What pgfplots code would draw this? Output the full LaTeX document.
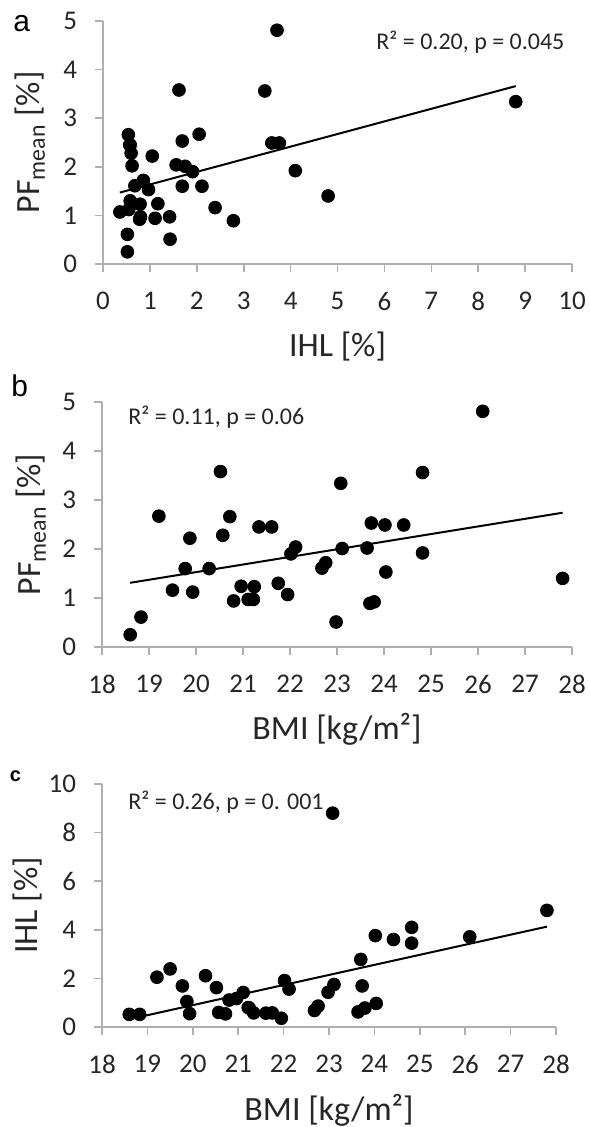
\documentclass[border=0pt]{standalone}
\usepackage{pgfplots}
\pgfplotsset{compat=1.18}
\usepackage{fontspec}
\setmainfont{Carlito}
\newfontfamily\arialf{Liberation Sans}
\definecolor{axgray}{RGB}{175,175,175}

% BMI, IHL, PF (one row per subject)
\pgfplotstableread{
bmi   ihl   pf
18.60 0.52 0.25
18.83 0.52 0.61
19.21 2.05 2.67
19.50 2.39 1.16
19.77 1.69 1.60
19.87 1.05 2.22
19.93 0.55 1.12
20.28 2.11 1.60
20.52 1.62 3.58
20.57 0.60 2.28
20.72 0.54 2.66
20.80 1.11 0.94
20.96 1.17 1.24
21.11 1.42 0.97
21.22 0.80 0.97
21.24 0.79 1.23
21.34 0.58 2.45
21.61 0.57 2.45
21.75 0.58 1.30
21.95 0.36 1.07
22.02 1.91 1.90
22.12 1.56 2.04
22.68 0.68 1.61
22.76 0.86 1.72
22.98 1.43 0.51
23.08 8.80 3.34
23.11 1.75 2.01
23.64 0.62 2.02
23.70 2.78 0.89
23.79 0.78 0.92
23.73 1.69 2.53
24.02 3.76 2.49
24.04 0.97 1.53
24.42 3.60 2.49
24.82 3.45 3.56
24.82 4.10 1.92
26.10 3.71 4.81
27.80 4.80 1.40
}\subjects

\pgfplotsset{
  panel/.style={
    scale only axis,
    anchor=south west,
    axis lines*=left,
    axis line style={axgray, line width=0.8pt},
    every tick/.style={axgray, line width=0.8pt},
    tick align=outside,
    major tick length=3.8pt,
    /pgf/number format/assume math mode=true,
    tick label style={font=\fontsize{13.5}{15}\selectfont, text=black!85},
    xticklabel style={anchor=north, inner sep=0pt, yshift=-10pt},
    yticklabel style={anchor=east, inner sep=0pt, xshift=-9pt},
    label style={font=\fontsize{17}{19}\selectfont, text=black!85},
    clip=false,
  },
  dots/.style={only marks, mark=*, mark size=3.2pt, mark options={fill=black, draw=black}},
  trend/.style={black, line width=1pt, no marks},
}

\begin{document}
\begin{tikzpicture}
\useasboundingbox (0,0) rectangle (294.5pt,563.5pt);

% ---------- panel a ----------
\begin{axis}[panel,
  at={(51.5pt,431.5pt)}, width=234.5pt, height=121.5pt,
  xmin=0, xmax=10, ymin=0, ymax=5,
  xtick={0,1,...,10}, ytick={0,1,...,5},
  xlabel={IHL [\%]},
  ylabel={PF\textsubscript{mean} [\%]},
  xlabel style={at={(axis description cs:0.5,-0.3416)}, anchor=center},
  ylabel style={at={(axis description cs:-0.1557,0.5)}, anchor=center, rotate=0},
]
\addplot[trend] coordinates {(0.36,1.47) (8.80,3.66)};
\addplot[dots] table[x=ihl, y=pf] {\subjects};
\end{axis}

% ---------- panel b ----------
\begin{axis}[panel,
  at={(51pt,240pt)}, width=235pt, height=122.5pt,
  xmin=18, xmax=28, ymin=0, ymax=5,
  xtick={18,19,...,28}, ytick={0,1,...,5},
  xlabel={BMI [kg/m²]},
  ylabel={PF\textsubscript{mean} [\%]},
  xlabel style={at={(axis description cs:0.5,-0.3347)}, anchor=center},
  ylabel style={at={(axis description cs:-0.151,0.5)}, anchor=center, rotate=0},
]
\addplot[trend] coordinates {(18.6,1.31) (27.8,2.74)};
\addplot[dots] table[x=bmi, y=pf] {\subjects};
\end{axis}

% ---------- panel c ----------
\begin{axis}[panel,
  at={(51pt,50pt)}, width=227pt, height=121.5pt,
  xmin=18, xmax=28, ymin=0, ymax=10,
  xtick={18,19,...,28}, ytick={0,2,...,10},
  xlabel={BMI [kg/m²]},
  ylabel={IHL [\%]},
  xlabel style={at={(axis description cs:0.5,-0.3416)}, anchor=center},
  ylabel style={at={(axis description cs:-0.163,0.5)}, anchor=center, rotate=0},
]
\addplot[trend] coordinates {(18.6,0.32) (27.8,4.13)};
\addplot[dots] table[x=bmi, y=ihl] {\subjects};
\end{axis}

% annotations
\node[anchor=base west, inner sep=0pt, font=\fontsize{12}{14}\selectfont, text=black!85] at (188pt,538.75pt) {R² = 0.20, p = 0.045};
\node[anchor=base west, inner sep=0pt, font=\fontsize{12}{14}\selectfont, text=black!85] at (64pt,351pt) {R² = 0.11, p = 0.06};
\node[anchor=base west, inner sep=0pt, font=\fontsize{12}{14}\selectfont, text=black!85] at (64pt,158.5pt) {R² = 0.26, p = 0. 001};

\node[anchor=base west, inner sep=0pt, font=\arialf\fontsize{15}{17}\selectfont] at (6.5pt,547.5pt) {a};
\node[anchor=base west, inner sep=0pt, font=\arialf\fontsize{15}{17}\selectfont] at (5.5pt,365pt) {b};
\node[anchor=base west, inner sep=0pt, font=\arialf\bfseries\fontsize{10}{12}\selectfont] at (4.7pt,172.5pt) {c};
\end{tikzpicture}
\end{document}
